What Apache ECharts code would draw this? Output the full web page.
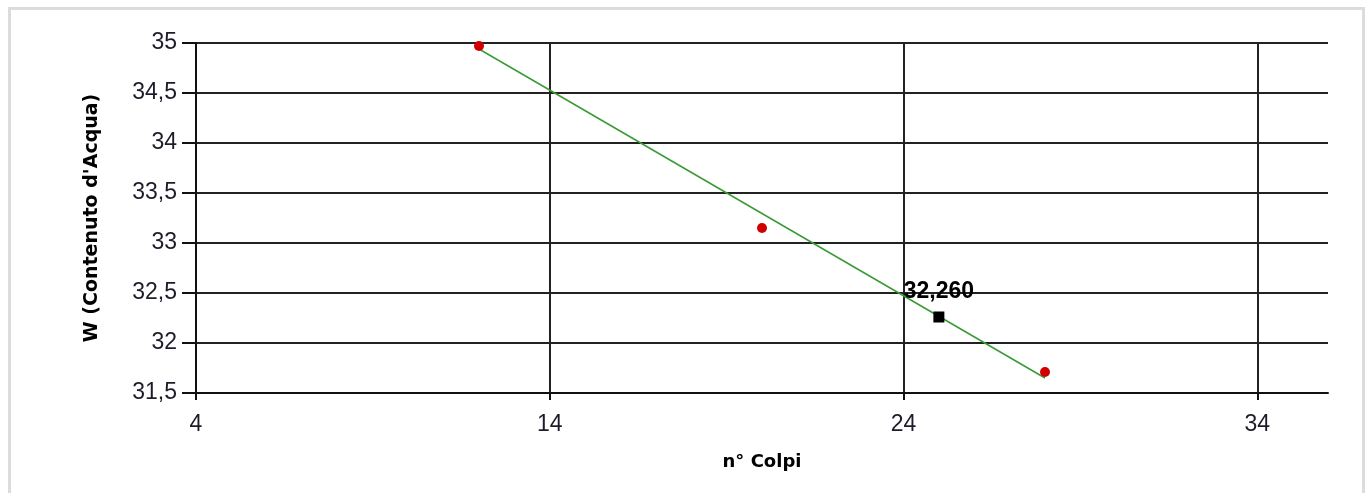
<!DOCTYPE html>
<html>
<head>
<meta charset="utf-8">
<script src="https://cdn.jsdelivr.net/npm/echarts@6/dist/echarts.min.js"></script>
<style>
  html, body { margin: 0; padding: 0; background: #fff; }
  #frame {
    position: absolute; left: 8px; top: 7px; width: 1357px; height: 500px;
    border: 3px solid #dcdcdc; box-sizing: border-box;
  }
  #chart { position: absolute; left: 0; top: 0; width: 1372px; height: 493px; }
</style>
</head>
<body>
<div id="frame"></div>
<div id="chart"></div>
<script>
// punti misurati (n° colpi, contenuto d'acqua)
const colpi = [12, 20, 28];
const acqua = [34.97, 33.15, 31.71];
// retta di interpolazione
const rettaX = [12, 28];
const rettaY = [34.94, 31.65];
// valore a 25 colpi
const puntoX = [25];
const puntoY = [32.26];
const xTicks = [4, 14, 24, 34];

const fmt = (v) => String(Number(v.toFixed(2))).replace(".", ",");

const chart = echarts.init(document.getElementById("chart"));
const option = {
  animation: false,
  grid: { left: 196, right: 44, top: 43, bottom: 100 },
  xAxis: {
    type: "value",
    min: 4,
    max: 36,
    interval: 10,
    name: "n° Colpi",
    nameLocation: "middle",
    nameGap: 60,
    nameTextStyle: { fontFamily: "DejaVu Sans", fontWeight: "bold", fontSize: 18, color: "#000" },
    axisLine: { lineStyle: { color: "#111", width: 2 } },
    axisTick: { show: true, length: 7, customValues: xTicks, lineStyle: { color: "#111", width: 2 } },
    axisLabel: {
      customValues: xTicks,
      margin: 20,
      fontFamily: "Liberation Sans",
      fontSize: 23,
      color: "#1d1d2a",
      formatter: fmt,
    },
    splitLine: { show: true, showMinLine: false, showMaxLine: true, lineStyle: { color: "#222", width: 2 } },
  },
  yAxis: {
    type: "value",
    min: 31.5,
    max: 35,
    interval: 0.5,
    name: "W (Contenuto d'Acqua)",
    nameLocation: "middle",
    nameRotate: 90,
    nameGap: 94,
    nameTextStyle: { fontFamily: "DejaVu Sans", fontWeight: "bold", fontSize: 19, color: "#000" },
    axisLine: { show: true, lineStyle: { color: "#111", width: 2 } },
    axisTick: { show: true, length: 14, lineStyle: { color: "#111", width: 2 } },
    axisLabel: {
      margin: 19,
      fontFamily: "Liberation Sans",
      fontSize: 23,
      color: "#1d1d2a",
      formatter: fmt,
    },
    splitLine: { show: true, lineStyle: { color: "#222", width: 2 } },
  },
  series: [
    {
      type: "line",
      data: rettaX.map((x, i) => [x, rettaY[i]]),
      symbol: "none",
      lineStyle: { color: "#3a9a35", width: 1.5 },
      z: 2,
    },
    {
      type: "scatter",
      data: colpi.map((x, i) => [x, acqua[i]]),
      symbol: "circle",
      symbolSize: 10,
      itemStyle: { color: "#d00000", opacity: 1 },
      z: 3,
    },
    {
      type: "scatter",
      data: puntoX.map((x, i) => [x, puntoY[i]]),
      symbol: "rect",
      symbolSize: 11,
      itemStyle: { color: "#000", opacity: 1 },
      label: {
        show: true,
        position: "top",
        distance: 8,
        fontFamily: "Liberation Sans",
        fontWeight: "bold",
        fontSize: 23,
        color: "#000",
        opacity: 1,
        formatter: (p) => Number(p.value[1]).toFixed(3).replace(".", ","),
      },
      z: 4,
    },
  ],
};
chart.setOption(option);
</script>
</body>
</html>
